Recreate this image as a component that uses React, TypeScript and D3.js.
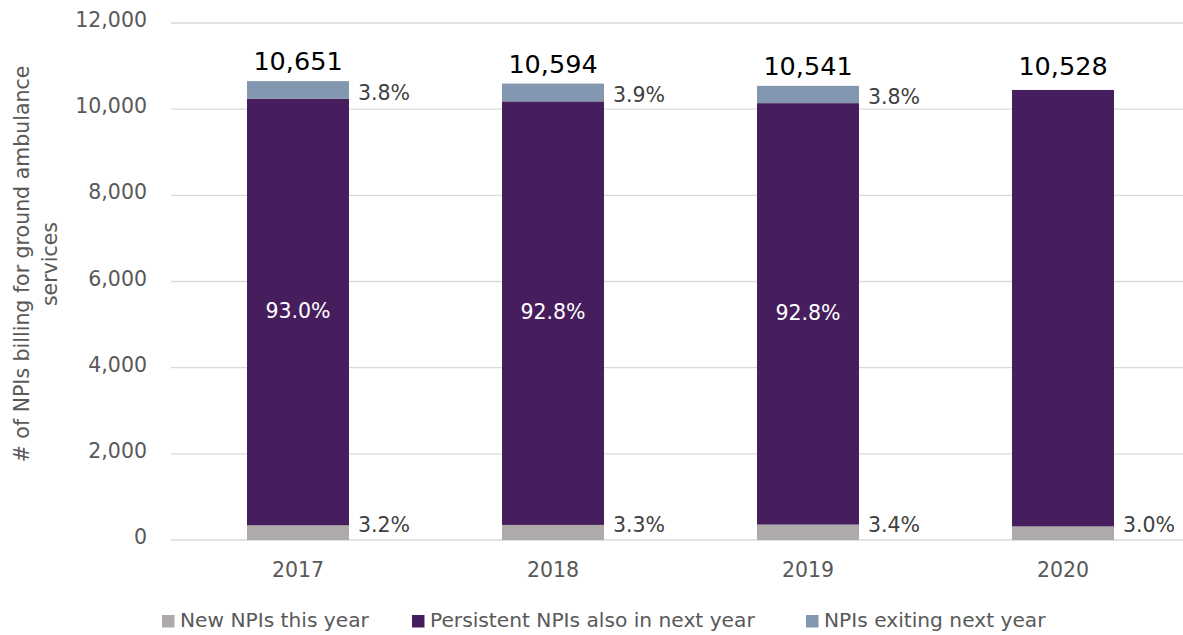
import React from 'react';
import * as d3 from 'd3';

const years = ['2017', '2018', '2019', '2020'];
const newNPIs = [341, 350, 358, 316];
const persistentNPIs = [9905, 9831, 9782, 10130];
const exitingNPIs = [405, 413, 401, 0];
const totals = [10651, 10594, 10541, 10528];
const yTicks = [0, 2000, 4000, 6000, 8000, 10000, 12000];
const seriesNames = ['New NPIs this year', 'Persistent NPIs also in next year', 'NPIs exiting next year'];

const W = 1183;
const H = 635;
const FONT = '"DejaVu Sans", sans-serif';
const COLORS = ['#AEAAAA', '#461E5E', '#8497B0'];

export default function App() {
  const x = d3.scaleBand<string>().domain(years).range([170.5, 1190.5]).paddingInner(0.6).paddingOuter(0.3);
  const y = d3.scaleLinear().domain([0, 12000]).range([540, 23]);
  const rows = years.map((yr, i) => ({ year: yr, n: newNPIs[i], p: persistentNPIs[i], e: exitingNPIs[i] }));
  const stack = d3.stack<any>().keys(['n', 'p', 'e'])(rows);
  const fmt = d3.format(',');
  const pct = (v: number, t: number) => d3.format('.1f')((v / t) * 100) + '%';
  const bw = x.bandwidth();
  const legendX = [162, 412, 806];

  return (
    <svg width={W} height={H} style={{ position: 'absolute', left: 0, top: 0, background: '#fff' }} fontFamily={FONT}>
      {yTicks.map((t) => (
        <g key={t}>
          <line x1={171} x2={W} y1={y(t)} y2={y(t)} stroke="#D9D9D9" strokeWidth={1.3} />
          <text x={147} y={y(t) - 2} textAnchor="end" dominantBaseline="middle" fontSize={20.5} fill="#595959">
            {fmt(t)}
          </text>
        </g>
      ))}
      {stack.map((s, si) => (
        <g key={si} fill={COLORS[si]}>
          {s.map((d, i) => (
            <rect key={i} x={x(years[i])} width={bw} y={y(d[1])} height={Math.max(0, y(d[0]) - y(d[1]))} />
          ))}
        </g>
      ))}
      {years.map((yr, i) => {
        const cx = (x(yr) as number) + bw / 2;
        const right = (x(yr) as number) + bw + 9;
        return (
          <g key={yr}>
            <text x={cx} y={y(totals[i]) - 11} textAnchor="middle" fontSize={25.5} fill="#000">
              {fmt(totals[i])}
            </text>
            <text x={right} y={y(0) - 8} fontSize={20.5} fill="#404040">
              {pct(newNPIs[i], totals[i])}
            </text>
            {exitingNPIs[i] > 0 && (
              <text x={right} y={y(newNPIs[i] + persistentNPIs[i]) + 1} fontSize={20.5} fill="#404040">
                {pct(exitingNPIs[i], totals[i])}
              </text>
            )}
            {exitingNPIs[i] > 0 && (
              <text
                x={cx}
                y={(y(newNPIs[i]) + y(newNPIs[i] + persistentNPIs[i])) / 2}
                textAnchor="middle"
                dominantBaseline="middle"
                fontSize={20.5}
                fill="#fff"
              >
                {pct(persistentNPIs[i], totals[i])}
              </text>
            )}
            <text x={cx} y={577} textAnchor="middle" fontSize={20.5} fill="#595959">
              {yr}
            </text>
          </g>
        );
      })}
      <g transform="translate(29,264) rotate(-90)">
        <text x={0} y={0} textAnchor="middle" fontSize={20.5} fill="#595959">
          # of NPIs billing for ground ambulance
        </text>
        <text x={0} y={28} textAnchor="middle" fontSize={20.5} fill="#595959">
          services
        </text>
      </g>
      {seriesNames.map((name, i) => (
        <g key={name}>
          <rect x={legendX[i]} y={615} width={12.5} height={12.5} fill={COLORS[i]} />
          <text x={legendX[i] + 18} y={627} fontSize={20.2} fill="#595959">
            {name}
          </text>
        </g>
      ))}
    </svg>
  );
}
